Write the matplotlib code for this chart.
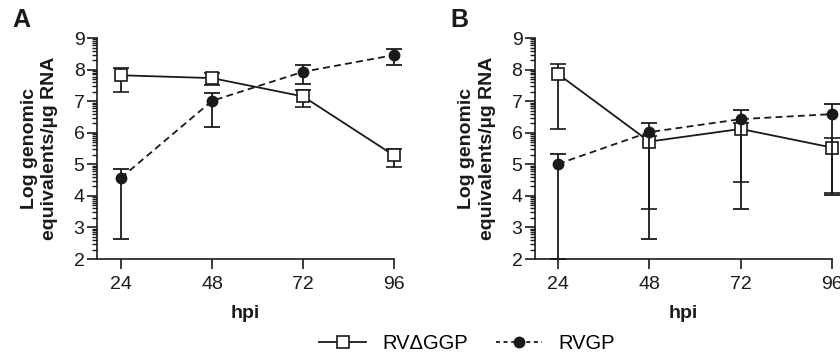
import numpy as np
import matplotlib
matplotlib.use("Agg")
import matplotlib.pyplot as plt
from matplotlib.ticker import FixedLocator
from matplotlib.lines import Line2D

plt.rcParams["font.family"] = ["Liberation Sans", "DejaVu Sans"]

hpi = [24, 48, 72, 96]

# panel A
a_ggp = [7.82, 7.73, 7.15, 5.28]
a_ggp_hi = [8.05, 7.90, 7.35, 5.49]
a_ggp_lo = [7.30, 7.52, 6.80, 4.91]
a_gp = [4.57, 7.01, 7.93, 8.46]
a_gp_hi = [4.86, 7.26, 8.15, 8.66]
a_gp_lo = [2.64, 6.17, 7.53, 8.14]

# panel B
b_ggp = [7.86, 5.72, 6.12, 5.53]
b_ggp_hi = [8.17, 5.90, 6.30, 5.83]
b_ggp_lo = [6.12, 3.58, 4.45, 4.10]
b_gp = [5.01, 6.02, 6.43, 6.59]
b_gp_hi = [5.32, 6.31, 6.71, 6.90]
b_gp_lo = [2.00, 2.63, 3.58, 4.02]

ink = "#1a1a1a"
dash = (3.8, 2.4)

fig = plt.figure(figsize=(8.4, 3.57), dpi=100)


def panel(rect, xmin, letter, ggp, ggp_lo, ggp_hi, gp, gp_lo, gp_hi):
    ax = fig.add_axes(rect)
    ggp = np.array(ggp)
    gp = np.array(gp)
    ax.errorbar(hpi, ggp, yerr=[ggp - np.array(ggp_lo), np.array(ggp_hi) - ggp],
                color=ink, lw=1.3, capsize=5.8, capthick=1.3, elinewidth=1.3,
                marker="s", ms=8, mfc="white", mec=ink, mew=1.2,
                clip_on=False, zorder=3)
    eb = ax.errorbar(hpi, gp, yerr=[gp - np.array(gp_lo), np.array(gp_hi) - gp],
                     color=ink, lw=1.3, capsize=5.8, capthick=1.3, elinewidth=1.3,
                     marker="o", ms=7.5, mfc=ink, mec=ink,
                     clip_on=False, zorder=4)
    eb[0].set_dashes(dash)
    for c in list(eb[1]) + list(eb[2]):
        c.set_clip_on(False)

    ax.set_xlim(xmin, 96)
    ax.set_ylim(2, 9)
    ax.set_xticks(hpi)
    ax.set_yticks(range(2, 10))
    minors = [n + np.log10(k) for n in range(2, 9) for k in range(2, 10)]
    ax.yaxis.set_minor_locator(FixedLocator(minors))
    for s in ["top", "right"]:
        ax.spines[s].set_visible(False)
    for s in ["left", "bottom"]:
        ax.spines[s].set_linewidth(1.2)
        ax.spines[s].set_color(ink)
    ax.tick_params(which="major", length=7, width=1.2, labelsize=14, color=ink,
                   labelcolor=ink)
    ax.tick_params(axis="y", which="major", pad=2)
    ax.tick_params(axis="x", which="major", pad=5)
    ax.tick_params(which="minor", length=3.5, width=1.0, color=ink)
    ax.set_xlabel("hpi", fontsize=14, fontweight="bold", color=ink, labelpad=9)
    ax.set_ylabel("Log genomic\nequivalents/\u00b5g RNA", fontsize=14,
                  fontweight="bold", color=ink, linespacing=1.3)
    ax.yaxis.set_label_coords(-0.13, 0.5)
    ax.text(-0.285, 1.08, letter, transform=ax.transAxes, fontsize=18,
            fontweight="bold", color=ink, va="center", ha="left")
    return ax


ax1 = panel([0.1155, 0.2745, 0.3536, 0.619], 17.67, "A",
            a_ggp, a_ggp_lo, a_ggp_hi, a_gp, a_gp_lo, a_gp_hi)
ax2 = panel([0.6369, 0.2745, 0.3536, 0.619], 17.95, "B",
            b_ggp, b_ggp_lo, b_ggp_hi, b_gp, b_gp_lo, b_gp_hi)

h1 = Line2D([], [], color=ink, lw=1.3, marker="s", ms=8, mfc="white", mec=ink, mew=1.2)
h2 = Line2D([], [], color=ink, lw=1.3, marker="o", ms=7.5, mfc=ink, mec=ink,
            dashes=(2.2, 2.0))
fig.legend([h1, h2], ["RV\u0394GGP", "RVGP"], loc="center",
           bbox_to_anchor=(0.556, 0.039), ncol=2, frameon=False, fontsize=14.5,
           handlelength=2.3, handletextpad=0.8, columnspacing=1.4)

fig.savefig("out.png", dpi=100)
